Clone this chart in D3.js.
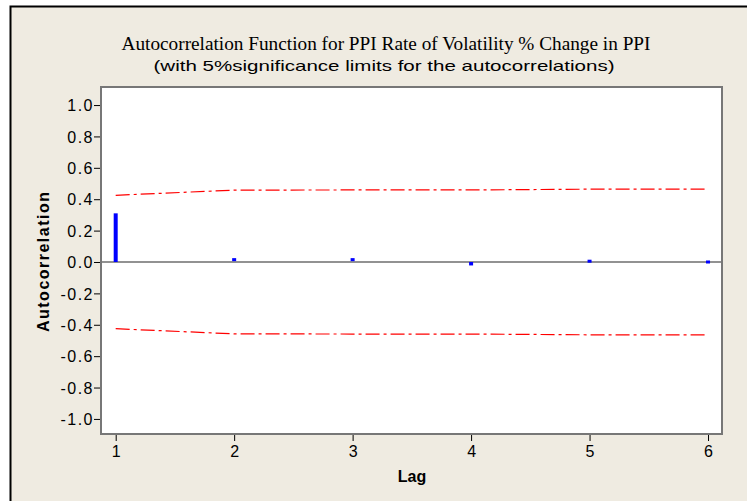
<!DOCTYPE html>
<html>
<head>
<meta charset="utf-8">
<script src="https://cdn.jsdelivr.net/npm/d3@7"></script>
<style>
  body { margin: 0; background: #fff; }
  svg { display: block; }
</style>
</head>
<body>
<div id="chart"></div>
<script>
// ACF values
const lags = [1, 2, 3, 4, 5, 6];
const acf = [0.31, 0.015, 0.015, -0.022, 0.005, -0.01];
const upperLimit = [0.425, 0.458, 0.459, 0.459, 0.464, 0.464];
const lowerLimit = [-0.425, -0.458, -0.459, -0.459, -0.464, -0.464];
const yTicks = [1.0, 0.8, 0.6, 0.4, 0.2, 0.0, -0.2, -0.4, -0.6, -0.8, -1.0];

const W = 747, H = 501;
const plot = {left: 101, right: 722, top: 87, bottom: 434};
const sans = "'Liberation Sans', Arial, sans-serif";

const svg = d3.select("#chart").append("svg")
    .attr("width", W)
    .attr("height", H);

// beige frame
svg.append("rect")
    .attr("x", 0).attr("y", 0).attr("width", W).attr("height", H)
    .attr("fill", "#fff");
svg.append("rect")
    .attr("x", 10.5).attr("y", 6.5).attr("width", W + 10).attr("height", H + 10)
    .attr("fill", "#efebe1")
    .attr("stroke", "#000")
    .attr("stroke-width", 2);

// titles
svg.append("text")
    .attr("x", 386).attr("y", 50)
    .attr("text-anchor", "middle")
    .attr("font-family", "'Liberation Serif', 'Times New Roman', serif")
    .attr("font-size", 19)
    .attr("textLength", 529)
    .attr("lengthAdjust", "spacingAndGlyphs")
    .text("Autocorrelation Function for PPI Rate of Volatility % Change in PPI");
svg.append("text")
    .attr("x", 384).attr("y", 71)
    .attr("text-anchor", "middle")
    .attr("font-family", sans)
    .attr("font-size", 15)
    .attr("textLength", 461)
    .attr("lengthAdjust", "spacingAndGlyphs")
    .text("(with 5%significance limits for the autocorrelations)");

const x = d3.scaleLinear()
    .domain([0.876, 6.118])
    .range([plot.left, plot.right]);
const y = d3.scaleLinear()
    .domain([-1.096, 1.115])
    .range([plot.bottom, plot.top]);

// plot area
svg.append("rect")
    .attr("x", plot.left).attr("y", plot.top)
    .attr("width", plot.right - plot.left)
    .attr("height", plot.bottom - plot.top)
    .attr("fill", "#fff");

// zero line
svg.append("line")
    .attr("x1", plot.left).attr("x2", plot.right)
    .attr("y1", y(0)).attr("y2", y(0))
    .attr("stroke", "#6e6e6e")
    .attr("stroke-width", 1.5);

// significance limits
const limitLine = d3.line()
    .x((d, i) => x(lags[i]))
    .y(d => y(d));
[upperLimit, lowerLimit].forEach(function(lim) {
  svg.append("path")
      .attr("d", limitLine(lim))
      .attr("fill", "none")
      .attr("stroke", "#ff0000")
      .attr("stroke-width", 1.2)
      .attr("stroke-dasharray", "14,4,3,4");
});

// acf bars
svg.selectAll("rect.bar")
    .data(acf)
    .enter()
    .append("rect")
      .attr("class", "bar")
      .attr("x", (d, i) => x(lags[i]) - 2)
      .attr("width", 4)
      .attr("y", d => Math.min(y(d), y(0)) - (Math.abs(y(d) - y(0)) < 3 ? 1.5 : 0))
      .attr("height", d => Math.max(Math.abs(y(d) - y(0)), 3))
      .attr("fill", "#0000ff");

// border
svg.append("rect")
    .attr("x", plot.left).attr("y", plot.top)
    .attr("width", plot.right - plot.left)
    .attr("height", plot.bottom - plot.top)
    .attr("fill", "none")
    .attr("stroke", "#777")
    .attr("stroke-width", 2);

// axes
const yAxis = svg.append("g")
    .attr("transform", "translate(" + (plot.left - 1) + ",0)")
    .call(d3.axisLeft(y).tickValues(yTicks).tickSize(6).tickSizeOuter(0)
      .tickFormat(d => d.toFixed(1).replace("-0.0", "0.0")));
const xAxis = svg.append("g")
    .attr("transform", "translate(0," + (plot.bottom + 1) + ")")
    .call(d3.axisBottom(x).tickValues(lags).tickSize(6).tickSizeOuter(0)
      .tickFormat(d3.format("d")));
[yAxis, xAxis].forEach(function(g) {
  g.select(".domain").remove();
  g.selectAll("line").attr("stroke", "#000");
  g.selectAll("text")
      .attr("font-family", sans)
      .attr("font-size", 16)
      .attr("fill", "#000");
});
yAxis.selectAll("text").attr("letter-spacing", 1.5).attr("x", -6).attr("dy", "0.36em");
xAxis.selectAll("text").attr("y", 9).attr("dy", "0.8em");

// axis titles
svg.append("text")
    .attr("transform", "translate(49,262) rotate(-90)")
    .attr("text-anchor", "middle")
    .attr("font-family", sans)
    .attr("font-weight", "bold")
    .attr("font-size", 16)
    .attr("textLength", 140)
    .attr("lengthAdjust", "spacing")
    .text("Autocorrelation");
svg.append("text")
    .attr("x", 412).attr("y", 482)
    .attr("text-anchor", "middle")
    .attr("font-family", sans)
    .attr("font-weight", "bold")
    .attr("font-size", 16)
    .text("Lag");
</script>
</body>
</html>
